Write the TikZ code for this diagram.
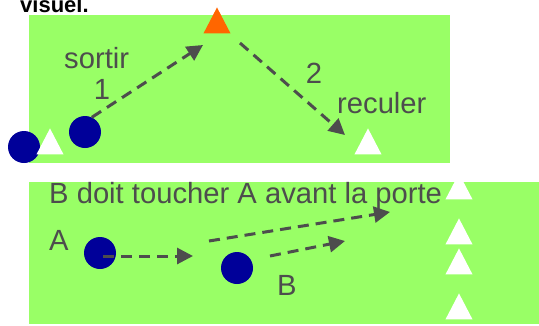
\documentclass[tikz,border=0pt]{standalone}
\usepackage{fontspec}
\setmainfont{Liberation Sans}
\usetikzlibrary{arrows.meta,positioning,shapes.geometric}
\definecolor{fieldGreen}{RGB}{153,255,102}
\definecolor{playerBlue}{RGB}{0,0,153}
\definecolor{coneOrange}{RGB}{255,102,0}
\definecolor{labelGray}{RGB}{77,77,77}

\begin{document}
\begin{tikzpicture}[x=1pt, y=-1pt,
  player/.style={circle, fill=playerBlue, minimum size=32pt, inner sep=0pt},
  cone/.style={isosceles triangle, shape border rotate=90,
               isosceles triangle apex angle=55, fill=white,
               inner sep=0pt, minimum height=26pt, anchor=apex},
  run/.style={draw=labelGray, line width=3pt, dash pattern=on 11pt off 7pt,
              -{Triangle[length=16pt,width=16pt]}},
  lbl/.style={text=labelGray, font=\fontsize{29.2}{32}\selectfont,
              inner sep=0pt}
]
  \clip (0,0) rectangle (539,325);
  \useasboundingbox (0,0) rectangle (539,325);

  % terrains
  \fill[fieldGreen] (29,15) rectangle (450,163);
  \fill[fieldGreen] (29,182) rectangle (539,324);
  \node[anchor=base west, inner sep=0pt,
        font=\fontsize{22}{24}\selectfont\bfseries] (titre) at (20,12) {visuel.};

  % joueurs
  \node[player] (joueur1) at (24,147) {};
  \node[player] (joueur2) at (85,132) {};
  \node[player] (joueurA) at (100,253) {};
  \node[player] (joueurB) at (237,268) {};

  % plots
  \node[cone, fill=coneOrange] (plot) at (217,7) {};
  \node[cone] (coneDepart) at (50,128) {};
  \node[cone] (coneRecul) at (368,128) {};
  \node[cone] (porte1) at (459,173) {};
  \node[cone] (porte2) at (459,218) {};
  \node[cone] (porte3) at (459,248) {};
  \node[cone] (porte4) at (459,293) {};

  % courses
  \coordinate (sortieFin) at (203,45);
  \coordinate (reculDebut) at (240,43);
  \coordinate (reculFin) at (345,135);
  \coordinate (passeFin) at (193,256);
  \coordinate (longDebut) at (209,241);
  \coordinate (longFin) at (390,212);
  \coordinate (courtDebut) at (270,256);
  \coordinate (courtFin) at (345,241);
  \draw[run] (joueur2.65) -- (sortieFin);
  \draw[run] (reculDebut) -- (reculFin);
  \draw[run] ([shift={(3,3)}]joueurA.center) -- (passeFin);
  \draw[run] (longDebut) -- (longFin);
  \draw[run] (courtDebut) -- (courtFin);

  % textes
  \node[lbl, anchor=base west] (sortir) at (64,68) {sortir};
  \node[lbl, anchor=base] (un) at (102,99) {1};
  \node[lbl, anchor=base] (deux) at (314,83) {2};
  \node[lbl, anchor=base west] (reculer) at (337,113) {reculer};
  \node[lbl, anchor=base west] (consigne) at (49,203) {B doit toucher A avant la porte};
  \node[lbl, anchor=base west] (lettreA) at (49,250) {A};
  \node[lbl, anchor=base west] (lettreB) at (277,295) {B};
\end{tikzpicture}
\end{document}
